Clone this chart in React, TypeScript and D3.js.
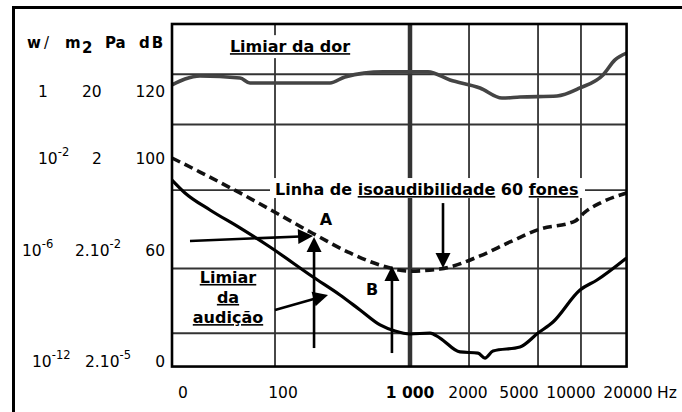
import React from "react";
import * as d3 from "d3";

// ---------------- data ----------------
const freqTicks = [0, 100, 1000, 2000, 5000, 10000, 20000];
const freqTickLabels = ["0", "100", "1 000", "2000", "5000", "10000", "20000"];
const boldFreqTick = [false, false, true, false, false, false, false];
const dbTicks = [0, 60, 100, 120];
const dbTickLabels = ["0", "60", "100", "120"];
const intensityBase = ["10", "10", "10", "1"];
const intensityExp = ["-12", "-6", "-2", ""];
const pressureBase = ["2.10", "2.10", "2", "20"];
const pressureExp = ["-5", "-2", "", ""];

// grid (in Hz / dB)
const freqGrid = [92, 1000, 2060, 6830, 11750];
const dbGrid = [15, 50, 86, 110, 125];
const freqExtent = [-11, 19750];
const dbExtent = [-3, 140];

// Limiar da dor
const painFreq = [-11, 2, 17, 57, 67, 433, 539, 809, 1310, 1690, 2706, 4000, 5096, 8656, 11579, 15613, 17718, 19737];
const painDb = [121.8, 123.6, 124.5, 123.9, 122.4, 122.4, 124.2, 125.7, 125.7, 123.3, 120.9, 117.9, 118.2, 118.5, 120.9, 124.8, 129.3, 131.3];

// Linha de isoaudibilidade 60 fones
const phonFreq = [-11, 17, 57, 97, 306, 575, 787, 1000, 1517, 2706, 4470, 7020, 10702, 12456, 15087, 19737];
const phonDb = [100, 93.9, 84.8, 75.2, 67.4, 58.4, 51.9, 48.6, 49.7, 56.8, 63.5, 69.1, 72.6, 76.5, 80.4, 84.8];

// Limiar da audição
const hearFreq = [-11, 2, 27, 57, 87, 313, 504, 646, 788, 894, 1000, 1345, 1517, 1862, 2588, 3000, 3470, 5096, 6828, 8271, 11579, 14560, 19737];
const hearDb = [90.4, 84.8, 77.4, 69.6, 61.3, 45.4, 35.7, 27.6, 19.5, 16.2, 14.6, 15.1, 12.4, 4.9, 4.3, 1.6, 5.4, 7.6, 15.1, 21.1, 38.4, 43.8, 55.7];

// annotation arrows: [freqFrom, dbFrom, freqTo, dbTo]
const arrows: number[][] = [
  [7, 63.9, 313, 66.1],
  [320, 7.0, 320, 65.7],
  [92, 27.6, 419, 35.7],
  [872, 4.3, 872, 51.4],
  [1569, 80.4, 1569, 50.3],
];

const FONT = "'DejaVu Sans', Verdana, sans-serif";

function Arrow({ x1, y1, x2, y2 }: { x1: number; y1: number; x2: number; y2: number }) {
  const len = 15;
  const half = 7.5;
  const dx = x2 - x1;
  const dy = y2 - y1;
  const L = Math.hypot(dx, dy);
  const ux = dx / L;
  const uy = dy / L;
  const bx = x2 - ux * len;
  const by = y2 - uy * len;
  const px = -uy;
  const py = ux;
  const pts = `${x2},${y2} ${bx + px * half},${by + py * half} ${bx - px * half},${by - py * half}`;
  return (
    <g>
      <line x1={x1} y1={y1} x2={bx + ux * 2} y2={by + uy * 2} stroke="#000" strokeWidth={2.6} />
      <polygon points={pts} fill="#000" />
    </g>
  );
}

export default function App() {
  const x = d3.scaleLinear().domain(freqTicks).range([183, 283, 410, 468, 519, 571, 628]);
  const y = d3.scaleLinear().domain(dbTicks).range([361, 250, 158, 91]);
  const px0 = x(freqExtent[0]);
  const px1 = x(freqExtent[1]);
  const py0 = y(dbExtent[0]);
  const py1 = y(dbExtent[1]);

  const line = d3
    .line<[number, number]>()
    .x((d) => x(d[0]))
    .y((d) => y(d[1]))
    .curve(d3.curveMonotoneX);

  const pain = line(painFreq.map((f, i) => [f, painDb[i]] as [number, number])) || "";
  const phon = line(phonFreq.map((f, i) => [f, phonDb[i]] as [number, number])) || "";
  const hear = line(hearFreq.map((f, i) => [f, hearDb[i]] as [number, number])) || "";

  // annotation anchors
  const dorX = x(150);
  const dorY = y(131.6);
  const isoX = x(92);
  const isoY = y(83.9);

  const annStyle: React.CSSProperties = { fontFamily: FONT, fontWeight: "bold", fontSize: 16 };
  const ul: React.CSSProperties = { textDecoration: "underline" };

  return (
    <svg
      width={682}
      height={412}
      style={{ position: "absolute", left: 0, top: 0, background: "#fff" }}
    >
      <rect x={0} y={0} width={682} height={412} fill="#fff" />
      {/* outer frame (left + top) */}
      <path d="M13.5,412 L13.5,7.5 L682,7.5" fill="none" stroke="#000" strokeWidth={3} />

      {/* grid */}
      {dbGrid.map((d, i) => (
        <line key={"h" + i} x1={px0} x2={px1} y1={y(d)} y2={y(d)} stroke="#333" strokeWidth={1.8} />
      ))}
      {freqGrid.map((f, i) => (
        <line
          key={"v" + i}
          x1={x(f)}
          x2={x(f)}
          y1={py1}
          y2={py0}
          stroke="#333"
          strokeWidth={f === 1000 ? 4.5 : 1.8}
        />
      ))}

      {/* text backgrounds */}
      <rect x={dorX - 62} y={dorY - 17} width={124} height={23} fill="#fff" />
      <rect x={isoX - 5} y={isoY - 17} width={315} height={20} fill="#fff" />

      {/* curves */}
      <path d={pain} fill="none" stroke="#444" strokeWidth={3.6} strokeLinejoin="round" />
      <path d={phon} fill="none" stroke="#111" strokeWidth={3.6} strokeDasharray="9,5" />
      <path d={hear} fill="none" stroke="#000" strokeWidth={3.2} strokeLinejoin="round" />

      {/* plot frame */}
      <rect x={px0} y={py1} width={px1 - px0} height={py0 - py1} fill="none" stroke="#000" strokeWidth={2.6} />

      {/* arrows */}
      {arrows.map((a, i) => (
        <Arrow key={"a" + i} x1={x(a[0])} y1={y(a[1])} x2={x(a[2])} y2={y(a[3])} />
      ))}

      {/* annotation texts */}
      <text x={dorX} y={dorY} textAnchor="middle" style={{ ...annStyle, ...ul }}>
        Limiar da dor
      </text>
      <text x={isoX} y={isoY} style={annStyle}>
        <tspan>Linha de </tspan>
        <tspan style={ul}>isoaudibilidade</tspan>
        <tspan> 60 </tspan>
        <tspan style={ul}>fones</tspan>
      </text>
      <text x={x(405)} y={y(70.9)} textAnchor="middle" style={annStyle}>
        A
      </text>
      <text x={x(731)} y={y(35.7)} textAnchor="middle" style={annStyle}>
        B
      </text>
      <text x={x(45)} y={y(42.2)} textAnchor="middle" style={{ ...annStyle, ...ul }}>
        Limiar
      </text>
      <text x={x(45)} y={y(31.4)} textAnchor="middle" style={{ ...annStyle, ...ul }}>
        da
      </text>
      <text x={x(45)} y={y(20.5)} textAnchor="middle" style={{ ...annStyle, ...ul }}>
        audição
      </text>

      {/* header */}
      <g style={{ fontFamily: FONT, fontWeight: "bold", fontSize: 15 }}>
        <text x={27} y={48}>w</text>
        <text x={44} y={48} style={{ fontWeight: "normal" }}>/</text>
        <text x={65} y={48}>m</text>
        <text x={82} y={53}>2</text>
        <text x={105} y={48}>Pa</text>
        <text x={139} y={48} letterSpacing={2}>dB</text>
      </g>

      {/* y tick labels */}
      <g style={{ fontFamily: FONT, fontSize: 15.5 }}>
        {dbTicks.map((d, i) => {
          const yy = y(d) + 5.5;
          const iStart = [32, 22, 38, 38][i];
          const pStart = [85, 75, 92, 82][i];
          return (
            <g key={"yl" + i}>
              <text x={165} y={yy} textAnchor="end">
                {dbTickLabels[i]}
              </text>
              <text x={iStart} y={yy}>
                {intensityBase[i]}
                {intensityExp[i] && (
                  <tspan dy={-8} fontSize={11.5}>
                    {intensityExp[i]}
                  </tspan>
                )}
              </text>
              <text x={pStart} y={yy}>
                {pressureBase[i]}
                {pressureExp[i] && (
                  <tspan dy={-8} fontSize={11.5}>
                    {pressureExp[i]}
                  </tspan>
                )}
              </text>
            </g>
          );
        })}
      </g>

      {/* x tick labels */}
      <g style={{ fontFamily: FONT, fontSize: 15.5 }}>
        {freqTicks.map((f, i) => (
          <text
            key={"xl" + i}
            x={x(f)}
            y={398}
            textAnchor="middle"
            fontWeight={boldFreqTick[i] ? "bold" : "normal"}
          >
            {freqTickLabels[i]}
          </text>
        ))}
        <text x={657} y={398}>Hz</text>
      </g>
    </svg>
  );
}
